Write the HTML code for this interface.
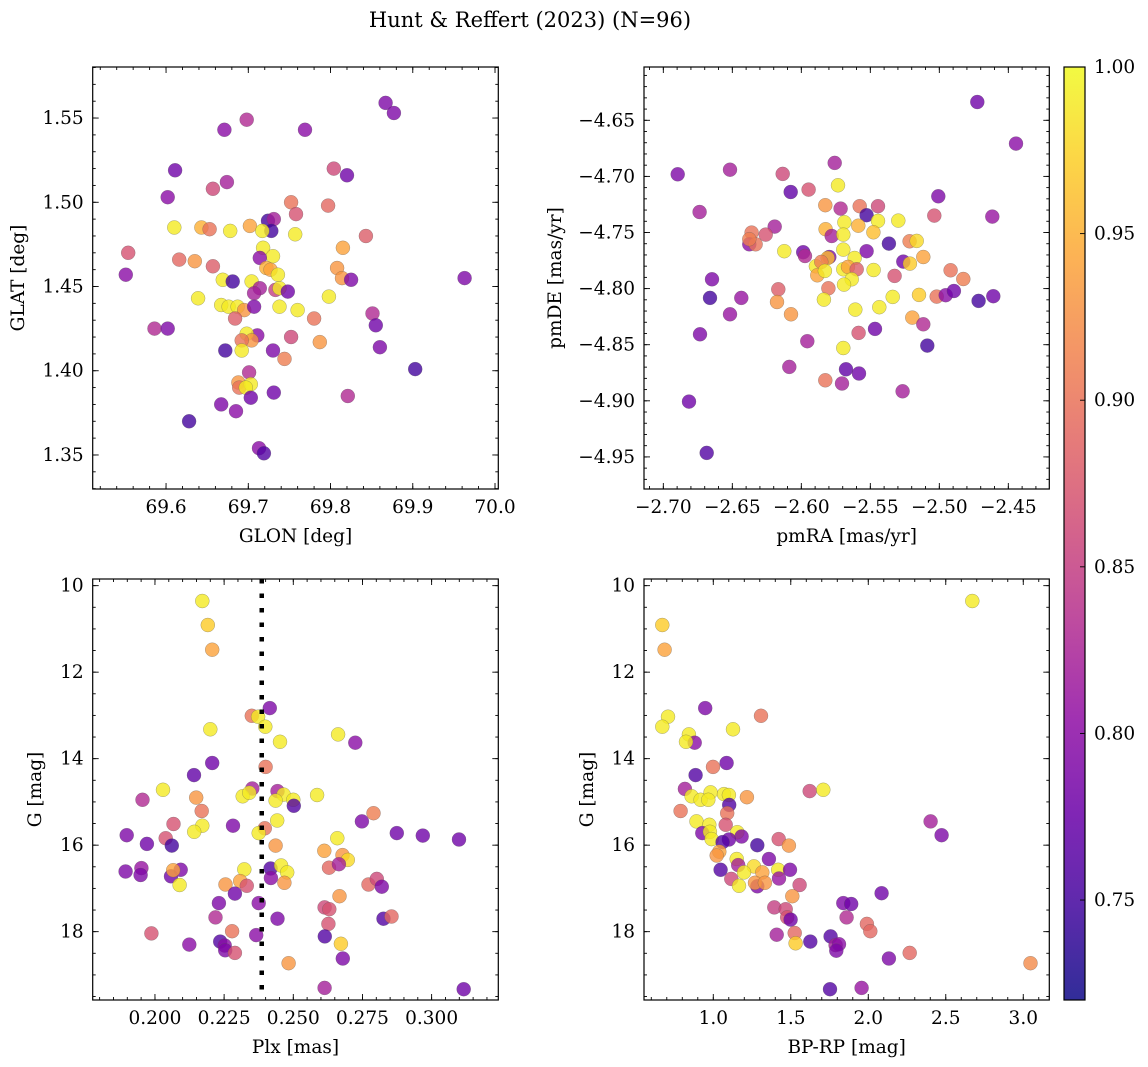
<!DOCTYPE html>
<html><head><meta charset="utf-8"><style>
html,body{margin:0;padding:0;background:#fff;}
svg{display:block;font-family:"DejaVu Serif","Liberation Serif",serif;}
</style></head><body>
<svg id="fig" width="1148" height="1067" viewBox="0 0 1148 1067" xmlns="http://www.w3.org/2000/svg">
<rect width="1148" height="1067" fill="#fff"/>
<text x="530" y="27" font-size="21" text-anchor="middle">Hunt &amp; Reffert (2023) (N=96)</text>
<g id="plots"></g>
</svg>
<script>
// Panel 1: GLON vs GLAT
const p1Lon=[69.867,69.877,69.698,69.671,69.769,69.611,69.804,69.820,69.674,69.657,69.602,69.752,69.758,69.797,69.724,69.731,69.728,69.610,69.643,69.653,69.678,69.702,69.717,69.757,69.843,69.554,69.718,69.815,69.730,69.714,69.616,69.635,69.657,69.722,69.727,69.736,69.808,69.814,69.825,69.963,69.551,69.669,69.681,69.704,69.714,69.707,69.733,69.738,69.748,69.639,69.798,69.667,69.676,69.687,69.695,69.707,69.738,69.760,69.684,69.780,69.851,69.855,69.586,69.602,69.752,69.711,69.698,69.704,69.692,69.787,69.692,69.672,69.730,69.860,69.744,69.903,69.701,69.688,69.689,69.703,69.697,69.703,69.731,69.821,69.667,69.685,69.628,69.713,69.719];
const p1Lat=[1.559,1.553,1.549,1.543,1.543,1.519,1.520,1.516,1.512,1.508,1.503,1.500,1.493,1.498,1.489,1.490,1.483,1.485,1.485,1.484,1.483,1.486,1.483,1.481,1.480,1.470,1.473,1.473,1.468,1.467,1.466,1.465,1.462,1.461,1.460,1.457,1.461,1.455,1.454,1.455,1.457,1.454,1.453,1.453,1.449,1.446,1.448,1.449,1.447,1.443,1.444,1.439,1.438,1.438,1.436,1.438,1.438,1.436,1.431,1.431,1.434,1.427,1.425,1.425,1.420,1.421,1.422,1.418,1.418,1.417,1.412,1.412,1.412,1.414,1.407,1.401,1.399,1.393,1.390,1.392,1.390,1.384,1.387,1.385,1.380,1.376,1.370,1.354,1.351];
const p1Prob=[0.79,0.79,0.83,0.80,0.80,0.78,0.86,0.78,0.82,0.86,0.80,0.90,0.87,0.89,0.75,0.82,0.75,0.99,0.95,0.90,0.99,0.94,0.99,0.99,0.88,0.87,0.99,0.94,0.99,0.80,0.89,0.93,0.88,0.95,0.94,0.99,0.93,0.93,0.79,0.79,0.80,0.99,0.75,0.99,0.82,0.82,0.85,0.99,0.78,0.99,0.99,0.99,0.99,0.99,0.93,0.79,0.99,0.99,0.88,0.90,0.83,0.78,0.83,0.79,0.86,0.80,0.99,0.93,0.90,0.93,0.99,0.75,0.79,0.79,0.91,0.75,0.83,0.93,0.90,0.99,0.99,0.78,0.78,0.83,0.79,0.80,0.75,0.80,0.76];
// Panel 2: pmRA vs pmDE
const p2Pmra=[-2.4725,-2.4444,-2.6896,-2.6517,-2.5758,-2.6135,-2.6077,-2.5947,-2.5734,-2.5007,-2.6737,-2.5826,-2.5715,-2.5577,-2.5444,-2.5527,-2.5036,-2.4616,-2.5297,-2.5444,-2.5688,-2.5587,-2.5824,-2.5780,-2.5696,-2.5478,-2.6193,-2.6258,-2.6360,-2.6377,-2.6331,-2.6377,-2.5365,-2.5215,-2.5164,-2.6123,-2.5986,-2.5973,-2.5797,-2.5809,-2.5696,-2.5527,-2.5614,-2.5116,-2.5261,-2.5213,-2.5894,-2.5855,-2.5884,-2.5829,-2.5696,-2.5662,-2.5599,-2.5635,-2.5691,-2.5476,-2.5324,-2.4918,-2.4826,-2.6647,-2.6167,-2.5804,-2.6662,-2.6435,-2.6176,-2.5836,-2.5338,-2.5147,-2.5019,-2.4954,-2.4894,-2.4715,-2.4609,-2.6517,-2.6075,-2.5609,-2.5435,-2.5196,-2.5116,-2.6734,-2.5957,-2.5585,-2.5466,-2.5087,-2.5696,-2.6087,-2.5676,-2.5582,-2.5826,-2.5705,-2.5266,-2.6814,-2.6686];
const p2Pmde=[-4.6337,-4.6708,-4.6981,-4.6940,-4.6880,-4.6978,-4.7139,-4.7118,-4.7079,-4.7177,-4.7317,-4.7257,-4.7287,-4.7266,-4.7266,-4.7346,-4.7349,-4.7358,-4.7394,-4.7397,-4.7409,-4.7439,-4.7471,-4.7531,-4.7519,-4.7498,-4.7447,-4.7519,-4.7501,-4.7605,-4.7605,-4.7560,-4.7599,-4.7578,-4.7575,-4.7667,-4.7676,-4.7709,-4.7718,-4.7727,-4.7652,-4.7667,-4.7727,-4.7718,-4.7759,-4.7777,-4.7801,-4.7762,-4.7881,-4.7842,-4.7828,-4.7807,-4.7828,-4.7917,-4.7964,-4.7834,-4.7887,-4.7837,-4.7914,-4.7917,-4.8006,-4.7997,-4.8083,-4.8083,-4.8119,-4.8098,-4.8074,-4.8056,-4.8071,-4.8059,-4.8021,-4.8110,-4.8068,-4.8229,-4.8229,-4.8187,-4.8166,-4.8258,-4.8318,-4.8407,-4.8469,-4.8395,-4.8359,-4.8508,-4.8529,-4.8698,-4.8719,-4.8757,-4.8817,-4.8846,-4.8915,-4.9007,-4.9464];
const p2Prob=[0.78,0.80,0.79,0.82,0.82,0.86,0.77,0.87,0.99,0.79,0.82,0.93,0.83,0.90,0.86,0.75,0.87,0.81,0.99,0.99,0.99,0.95,0.95,0.82,0.99,0.96,0.82,0.87,0.90,0.80,0.90,0.91,0.75,0.91,0.98,0.99,0.78,0.83,0.79,0.96,0.99,0.79,0.99,0.94,0.78,0.97,0.99,0.91,0.94,0.99,0.99,0.94,0.88,0.99,0.99,0.99,0.87,0.90,0.91,0.79,0.88,0.90,0.75,0.81,0.93,0.99,0.99,0.97,0.90,0.80,0.78,0.75,0.78,0.81,0.93,0.99,0.99,0.94,0.83,0.79,0.82,0.87,0.78,0.75,0.99,0.82,0.77,0.78,0.90,0.82,0.82,0.78,0.76];
// Panel 3: Plx vs G
const p3Plx=[0.2171,0.2191,0.2207,0.2415,0.2350,0.2373,0.2399,0.2200,0.2662,0.2724,0.2452,0.2207,0.2141,0.2400,0.2029,0.1955,0.2149,0.2352,0.2317,0.2341,0.2443,0.2465,0.2436,0.2500,0.2502,0.2586,0.2169,0.2790,0.2067,0.2171,0.2142,0.2282,0.2442,0.2397,0.2375,0.2748,0.1898,0.1971,0.2039,0.2061,0.2436,0.2659,0.2874,0.2968,0.3099,0.2612,0.2678,0.2697,0.2629,0.2665,0.1894,0.1951,0.1948,0.2058,0.2093,0.2066,0.2089,0.2323,0.2418,0.2456,0.2478,0.2419,0.2255,0.2308,0.2332,0.2468,0.2772,0.2802,0.2820,0.2289,0.2231,0.2375,0.2667,0.2219,0.2443,0.2613,0.2630,0.2627,0.2826,0.2855,0.1987,0.2124,0.2236,0.2252,0.2254,0.2289,0.2279,0.2366,0.2614,0.2672,0.2679,0.2483,0.2613,0.3116];
const p3G=[10.355,10.91,11.48,12.83,13.01,13.03,13.26,13.32,13.44,13.63,13.61,14.10,14.38,14.19,14.72,14.95,14.90,14.69,14.87,14.79,14.75,14.83,14.97,14.95,15.09,14.84,15.21,15.26,15.51,15.55,15.69,15.55,15.43,15.61,15.72,15.45,15.77,15.97,15.84,16.01,16.01,15.84,15.72,15.78,15.87,16.13,16.23,16.34,16.52,16.44,16.61,16.53,16.69,16.72,16.57,16.58,16.92,16.56,16.54,16.47,16.63,16.76,16.91,16.83,16.94,16.87,16.91,16.78,16.96,17.12,17.34,17.34,17.18,17.67,17.70,17.44,17.48,17.82,17.70,17.65,18.04,18.30,18.23,18.32,18.43,18.49,17.99,18.08,18.11,18.28,18.62,18.73,19.30,19.33];
const p3Prob=[0.99,0.97,0.94,0.79,0.90,0.99,0.99,0.99,0.99,0.80,0.99,0.78,0.77,0.90,0.99,0.83,0.93,0.82,0.99,0.99,0.82,0.99,0.99,0.99,0.76,0.99,0.90,0.91,0.87,0.99,0.99,0.79,0.99,0.90,0.99,0.79,0.79,0.78,0.87,0.75,0.93,0.99,0.78,0.78,0.78,0.94,0.93,0.98,0.89,0.82,0.79,0.81,0.79,0.78,0.79,0.94,0.99,0.99,0.76,0.99,0.99,0.80,0.93,0.94,0.87,0.93,0.89,0.86,0.79,0.78,0.79,0.80,0.93,0.83,0.79,0.86,0.87,0.87,0.76,0.89,0.87,0.80,0.76,0.80,0.79,0.87,0.90,0.80,0.76,0.97,0.79,0.93,0.82,0.78];
const plxMean=0.2386;
// Panel 4: BP-RP vs G
const p4Bprp=[2.671,0.671,0.686,0.948,1.308,0.708,0.671,1.127,0.843,0.880,0.824,1.086,0.886,0.998,0.817,0.860,0.918,0.983,0.968,1.069,1.101,1.103,1.217,1.622,1.710,0.789,1.090,0.892,1.080,0.974,0.929,0.978,1.155,1.183,1.101,0.989,1.060,1.284,1.422,1.488,1.039,1.022,1.047,1.151,1.359,1.161,1.262,1.419,1.495,1.424,1.198,1.116,1.166,1.284,1.316,1.269,1.333,1.557,1.510,2.086,1.394,1.467,1.839,1.890,1.477,1.499,1.860,2.402,2.473,1.991,2.013,1.409,1.525,1.531,1.626,1.757,1.789,1.811,1.794,2.133,2.267,3.047,1.753,1.957];
const p4G=[10.355,10.91,11.48,12.83,13.01,13.03,13.26,13.32,13.44,13.63,13.61,14.10,14.38,14.19,14.70,14.87,14.95,14.78,14.95,14.82,14.84,15.07,14.89,14.75,14.72,15.21,15.26,15.45,15.53,15.53,15.72,15.69,15.70,15.80,15.87,15.86,15.93,16.00,15.86,16.01,16.15,16.24,16.57,16.32,16.32,16.46,16.49,16.57,16.57,16.77,16.63,16.78,16.94,16.95,16.63,16.87,16.87,16.92,17.18,17.11,17.44,17.48,17.34,17.36,17.67,17.72,17.67,15.45,15.77,17.82,17.99,18.07,18.03,18.27,18.23,18.11,18.31,18.29,18.44,18.62,18.49,18.73,19.33,19.30];
const p4Prob=[0.99,0.97,0.94,0.79,0.90,0.99,0.99,0.99,0.99,0.80,0.99,0.78,0.76,0.90,0.82,0.99,0.99,0.99,0.99,0.99,0.99,0.76,0.93,0.86,0.99,0.90,0.90,0.99,0.87,0.99,0.79,0.99,0.99,0.79,0.78,0.99,0.76,0.75,0.87,0.93,0.94,0.93,0.76,0.99,0.79,0.82,0.98,0.99,0.79,0.81,0.99,0.86,0.99,0.79,0.94,0.93,0.93,0.86,0.93,0.78,0.85,0.86,0.79,0.78,0.87,0.78,0.83,0.82,0.79,0.89,0.89,0.82,0.89,0.97,0.76,0.76,0.82,0.80,0.79,0.79,0.89,0.92,0.76,0.81];
// Tick labels
const p1XTicks=[69.6,69.7,69.8,69.9,70.0];
const p1YTicks=[1.35,1.40,1.45,1.50,1.55];
const p2XTicks=[-2.70,-2.65,-2.60,-2.55,-2.50,-2.45];
const p2YTicks=[-4.95,-4.90,-4.85,-4.80,-4.75,-4.70,-4.65];
const p3XTicks=[0.200,0.225,0.250,0.275,0.300];
const gTicks=[10,12,14,16,18];
const p4XTicks=[1.0,1.5,2.0,2.5,3.0];
const cbTicks=[0.75,0.80,0.85,0.90,0.95,1.00];
const cMin=0.72,cMax=1.00;

const NS="http://www.w3.org/2000/svg";
const root=document.getElementById('plots');
const FS=18.5;
function mk(tag,attrs,parent){const e=document.createElementNS(NS,tag);for(const k in attrs)e.setAttribute(k,attrs[k]);(parent||root).appendChild(e);return e;}
const plasma=[[13,8,135],[65,4,157],[106,0,168],[143,13,164],[177,42,144],[204,71,120],[225,100,98],[242,132,75],[252,166,54],[252,206,37],[240,249,33]];
function cmap(v){let t=(v-cMin)/(cMax-cMin);t=Math.max(0,Math.min(1,t))*10;const i=Math.min(9,Math.floor(t)),f=t-i;const a=plasma[i],b=plasma[i+1];return 'rgb('+a.map((c,j)=>Math.round(c+(b[j]-c)*f)).join(',')+')';}
function fmt(v,d){const s=v.toFixed(d);return s.replace('-','\u2212');}

function panel(cfg){
  const g=mk('g',{});
  
  
  const {L,R,T,B}=cfg;
  const sx=v=>L+(v-cfg.x0)/(cfg.x1-cfg.x0)*(R-L);
  const sy=cfg.invY?(v=>T+(v-cfg.y0)/(cfg.y1-cfg.y0)*(B-T)):(v=>B-(v-cfg.y0)/(cfg.y1-cfg.y0)*(B-T));
  const cp='clip-'+cfg.name;
  const cpe=mk('clipPath',{id:cp},g);mk('rect',{x:L,y:T,width:R-L,height:B-T},cpe);
  const pts=mk('g',{'clip-path':'url(#'+cp+')'},g);
  
  
  for(let i=0;i<cfg.xs.length;i++){
    const c=mk('circle',{cx:sx(cfg.xs[i]).toFixed(1),cy:sy(cfg.ys[i]).toFixed(1),r:7,fill:cmap(cfg.cs[i]),'fill-opacity':0.8,stroke:'#555','stroke-opacity':0.5,'stroke-width':0.5},pts);
    
    
  }
  if(cfg.vline!==undefined){
    const l=mk('line',{x1:sx(cfg.vline),x2:sx(cfg.vline),y1:T,y2:B,stroke:'#000','stroke-width':4.5,'stroke-dasharray':'4.5 10'},g);
    
    
  }
  const fr=mk('rect',{x:L,y:T,width:R-L,height:B-T,fill:'none',stroke:'#000','stroke-width':1.2},g);
  
  
  const tk=mk('g',{stroke:'#000','stroke-width':0.9},g);
  const mx0=Math.ceil(Math.min(cfg.x0,cfg.x1)/cfg.xm-1e-6),mx1=Math.floor(Math.max(cfg.x0,cfg.x1)/cfg.xm+1e-6);
  for(let k=mx0;k<=mx1;k++){const x=sx(k*cfg.xm);mk('line',{x1:x,x2:x,y1:B,y2:B-3},tk);mk('line',{x1:x,x2:x,y1:T,y2:T+3},tk);}
  const my0=Math.ceil(Math.min(cfg.y0,cfg.y1)/cfg.ym-1e-6),my1=Math.floor(Math.max(cfg.y0,cfg.y1)/cfg.ym+1e-6);
  for(let k=my0;k<=my1;k++){const y=sy(k*cfg.ym);mk('line',{x1:L,x2:L+3,y1:y,y2:y},tk);mk('line',{x1:R,x2:R-3,y1:y,y2:y},tk);}
  cfg.xt.forEach(v=>{const x=sx(v);mk('line',{x1:x,x2:x,y1:B,y2:B-6},tk);mk('line',{x1:x,x2:x,y1:T,y2:T+6},tk);
    const t=mk('text',{x:x,y:B+24,'font-size':FS,'text-anchor':'middle'},g);t.textContent=fmt(v,cfg.xd);
    
    });
  cfg.yt.forEach(v=>{const y=sy(v);mk('line',{x1:L,x2:L+6,y1:y,y2:y},tk);mk('line',{x1:R,x2:R-6,y1:y,y2:y},tk);
    const t=mk('text',{x:L-9,y:y+6,'font-size':FS,'text-anchor':'end'},g);t.textContent=fmt(v,cfg.yd);
    
    });
  const xl=mk('text',{x:(L+R)/2,y:B+53,'font-size':FS,'text-anchor':'middle'},g);xl.textContent=cfg.xlabel;
  
  
  const yl=mk('text',{x:0,y:0,'font-size':FS,'text-anchor':'middle',transform:'translate('+cfg.ylx+','+((T+B)/2)+') rotate(-90)'},g);yl.textContent=cfg.ylabel;
  
  
}

panel({name:'glon-glat-panel',L:92.7,R:498.3,T:67,B:489,x0:69.5108,x1:70.004,y0:1.3298,y1:1.5803,xs:p1Lon,ys:p1Lat,cs:p1Prob,xt:p1XTicks,yt:p1YTicks,xd:1,yd:2,xm:0.02,ym:0.01,xlabel:'GLON [deg]',ylabel:'GLAT [deg]',ylx:24});
panel({name:'proper-motion-panel',L:644,R:1049.3,T:67,B:489,x0:-2.714,x1:-2.4203,y0:-4.9786,y1:-4.6025,xs:p2Pmra,ys:p2Pmde,cs:p2Prob,xt:p2XTicks,yt:p2YTicks,xd:2,yd:2,xm:0.01,ym:0.01,xlabel:'pmRA [mas/yr]',ylabel:'pmDE [mas/yr]',ylx:561});
panel({name:'parallax-panel',L:92.7,R:498.3,T:579,B:1000,x0:0.1775,x1:0.3241,y0:9.846,y1:19.58,invY:true,xs:p3Plx,ys:p3G,cs:p3Prob,xt:p3XTicks,yt:gTicks,xd:3,yd:0,xm:0.005,ym:0.5,xlabel:'Plx [mas]',ylabel:'G [mag]',ylx:41,vline:plxMean});
panel({name:'cmd-panel',L:644,R:1049.3,T:579,B:1000,x0:0.553,x1:3.168,y0:9.846,y1:19.58,invY:true,xs:p4Bprp,ys:p4G,cs:p4Prob,xt:p4XTicks,yt:gTicks,xd:1,yd:0,xm:0.1,ym:0.5,xlabel:'BP-RP [mag]',ylabel:'G [mag]',ylx:593});

// Colorbar
(function(){
  const L=1064,R=1085,T=67,B=1000;
  const g=mk('g',{});
  
  
  const defs=mk('defs',{},g);
  const lg=mk('linearGradient',{id:'cbgrad',x1:0,y1:1,x2:0,y2:0},defs);
  for(let i=0;i<=20;i++){const v=cMin+(cMax-cMin)*i/20;mk('stop',{offset:(i/20),'stop-color':cmap(v),'stop-opacity':0.85},lg);}
  mk('rect',{x:L,y:T,width:R-L,height:B-T,fill:'url(#cbgrad)',stroke:'#000','stroke-width':1.2},g);
  const sy=v=>B-(v-cMin)/(cMax-cMin)*(B-T);
  cbTicks.forEach(v=>{const y=sy(v);mk('line',{x1:R,x2:R-5,y1:y,y2:y,stroke:'#000','stroke-width':0.9},g);
    const t=mk('text',{x:R+9,y:y+6,'font-size':FS},g);t.textContent=v.toFixed(2);
    
    });
})();
</script>
</body></html>
